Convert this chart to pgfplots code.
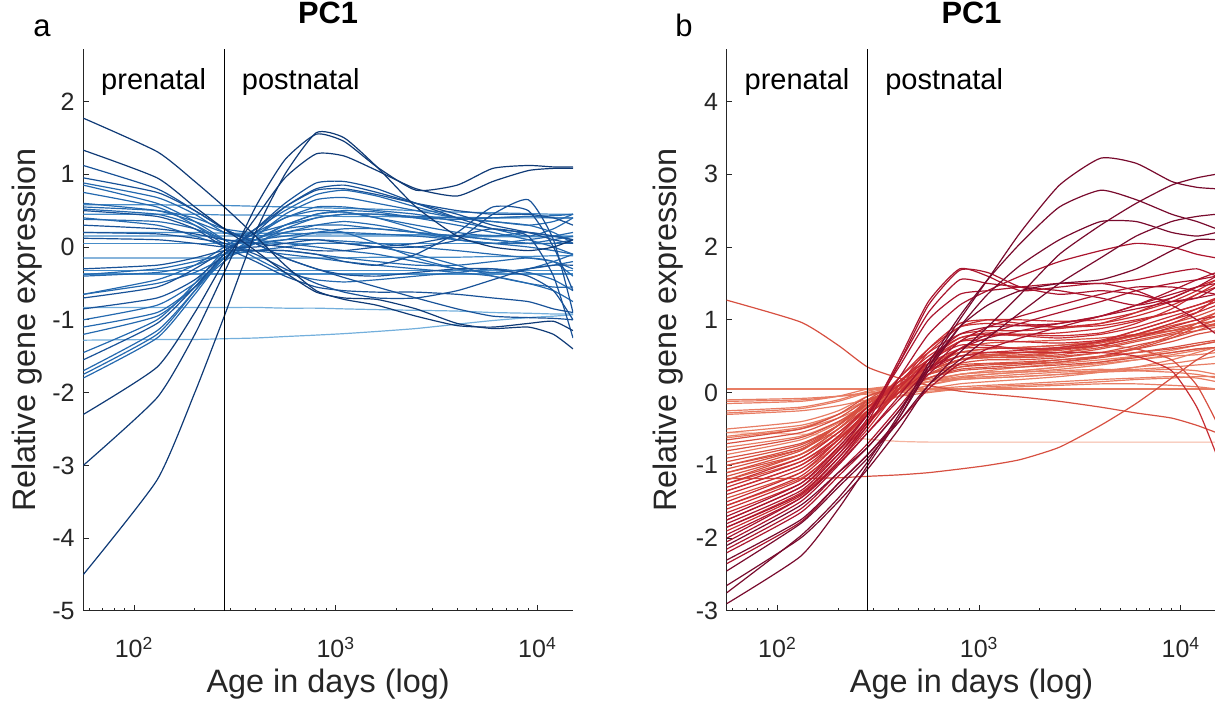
\documentclass[border=0pt]{standalone}
\usepackage{pgfplots}
\usepackage{pgfplotstable}
\pgfplotsset{compat=1.18}
\usepackage{fontspec}
\setmainfont{Liberation Sans}

\definecolor{axgray}{RGB}{38,38,38}
\definecolor{ba1}{RGB}{15,58,118}
\definecolor{ba2}{RGB}{24,82,152}
\definecolor{ba3}{RGB}{36,105,175}
\definecolor{ba4}{RGB}{70,140,200}
\definecolor{ba5}{RGB}{115,175,220}
\definecolor{rb1}{RGB}{120,10,45}
\definecolor{rb2}{RGB}{170,20,45}
\definecolor{rb3}{RGB}{200,45,50}
\definecolor{rb4}{RGB}{215,80,65}
\definecolor{rb5}{RGB}{232,125,100}
\definecolor{rb6}{RGB}{245,180,160}

\pgfplotstableread{
name 56 130 200 280 400 560 800 1100 1600 2500 4000 6000 9000 12000 15000
a1 1.77 1.31 0.90 0.55 0.15 -0.25 -0.60 -0.72 -0.80 -0.95 -1.08 -1.10 -1.05 -1.02 -1.15
a2 1.33 0.95 0.55 0.25 -0.05 -0.35 -0.62 -0.70 -0.72 -0.85 -1.05 -1.12 -1.10 -1.20 -1.40
a3 1.12 0.80 0.50 0.25 0.05 -0.15 -0.30 -0.42 -0.55 -0.70 -0.85 -0.95 -0.97 -0.98 -1.00
a4 0.88 0.68 0.45 0.20 0.10 0.05 0.00 -0.05 -0.10 -0.20 -0.30 -0.35 -0.30 -0.25 -0.20
a5 0.85 0.60 0.35 0.10 -0.15 -0.35 -0.45 -0.48 -0.45 -0.40 -0.35 -0.30 -0.35 -0.45 -0.60
a6 0.75 0.55 0.30 0.05 0.10 0.30 0.45 0.48 0.40 0.25 0.10 0.05 0.10 0.15 0.20
a7 0.52 0.45 0.30 0.10 0.10 0.15 0.20 0.20 0.18 0.15 0.10 0.05 0.00 -0.05 -0.10
a8 0.50 0.42 0.25 0.00 -0.20 -0.40 -0.55 -0.60 -0.62 -0.62 -0.65 -0.70 -0.75 -0.85 -0.90
a9 0.40 0.30 0.15 0.02 -0.05 -0.10 -0.15 -0.20 -0.25 -0.30 -0.35 -0.40 -0.50 -0.60 -0.75
a10 0.38 0.35 0.25 0.10 0.05 0.10 0.20 0.25 0.25 0.20 0.15 0.10 0.05 0.05 0.10
f1 0.58 0.58 0.57 0.57 0.56 0.55 0.54 0.53 0.52 0.50 0.48 0.47 0.46 0.45 0.45
f2 0.45 0.45 0.45 0.44 0.44 0.43 0.43 0.42 0.42 0.41 0.41 0.40 0.40 0.40 0.40
f3 0.15 0.15 0.15 0.15 0.15 0.15 0.15 0.15 0.15 0.15 0.15 0.14 0.14 0.14 0.14
f4 0.05 0.05 0.05 0.05 0.05 0.05 0.05 0.05 0.05 0.05 0.05 0.05 0.05 0.05 0.05
f5 -0.15 -0.15 -0.15 -0.15 -0.15 -0.15 -0.15 -0.15 -0.14 -0.14 -0.14 -0.13 -0.13 -0.12 -0.12
f6 -0.32 -0.32 -0.32 -0.32 -0.32 -0.32 -0.32 -0.32 -0.32 -0.32 -0.32 -0.32 -0.32 -0.32 -0.32
f7 -0.37 -0.37 -0.37 -0.37 -0.37 -0.37 -0.37 -0.37 -0.37 -0.37 -0.37 -0.37 -0.37 -0.37 -0.37
f8 -0.83 -0.83 -0.83 -0.83 -0.83 -0.84 -0.84 -0.85 -0.86 -0.87 -0.88 -0.90 -0.91 -0.92 -0.92
f9 -1.28 -1.27 -1.27 -1.26 -1.25 -1.23 -1.21 -1.19 -1.16 -1.12 -1.06 -1.01 -0.97 -0.95 -0.93
f10 0.20 0.20 0.20 0.19 0.19 0.19 0.18 0.18 0.17 0.17 0.16 0.16 0.15 0.15 0.15
r1 -0.65 -0.45 -0.25 0.00 0.25 0.50 0.72 0.78 0.70 0.55 0.40 0.35 0.30 0.35 0.45
r2 -0.70 -0.55 -0.30 -0.05 0.20 0.55 0.80 0.85 0.75 0.60 0.45 0.30 0.20 0.10 0.05
r3 -0.85 -0.70 -0.45 -0.10 0.25 0.60 0.88 0.90 0.80 0.60 0.40 0.25 0.20 0.15 0.10
r4 -1.00 -0.80 -0.50 -0.15 0.15 0.45 0.65 0.68 0.60 0.50 0.40 0.35 0.30 0.20 0.05
r5 -1.10 -0.90 -0.55 -0.20 0.10 0.30 0.45 0.50 0.48 0.40 0.30 0.20 0.10 0.00 -0.10
r6 -1.20 -0.95 -0.55 -0.15 0.15 0.40 0.50 0.48 0.40 0.30 0.20 0.15 0.20 0.15 0.10
r7 -1.55 -1.05 -0.55 -0.10 0.25 0.55 0.78 0.80 0.72 0.60 0.50 0.45 0.45 0.40 0.30
r8 -1.70 -1.15 -0.60 -0.15 0.10 0.25 0.30 0.30 0.25 0.20 0.15 0.10 0.05 0.05 0.05
r9 -1.75 -1.20 -0.60 -0.10 0.05 0.10 0.10 0.08 0.05 0.00 -0.05 -0.10 -0.15 -0.20 -0.30
r10 -1.80 -1.25 -0.65 -0.15 -0.05 -0.05 -0.10 -0.15 -0.20 -0.25 -0.25 -0.20 -0.15 -0.20 -0.40
r11 -2.30 -1.65 -0.90 -0.20 0.40 0.95 1.28 1.25 1.05 0.80 0.70 0.90 1.05 1.08 1.08
r12 -3.00 -2.07 -1.20 -0.35 0.55 1.20 1.55 1.45 1.10 0.78 0.85 1.08 1.12 1.10 1.10
r13 -4.50 -3.20 -2.00 -0.95 0.20 1.00 1.57 1.50 1.10 0.55 0.15 0.00 -0.05 0.00 0.10
m1 0.20 0.18 0.12 0.05 -0.10 -0.30 -0.50 -0.62 -0.70 -0.70 -0.60 -0.45 -0.30 -0.25 -0.25
m2 -0.38 -0.30 -0.20 -0.10 0.05 0.25 0.40 0.45 0.45 0.42 0.40 0.40 0.42 0.43 0.45
m3 0.12 0.10 0.05 0.00 0.00 0.05 0.10 0.05 0.00 0.00 0.10 0.45 0.65 0.10 -0.90
m4 -0.30 -0.25 -0.15 -0.05 -0.05 -0.05 -0.10 -0.20 -0.25 -0.10 0.20 0.55 0.50 0.00 -0.60
m5 0.55 0.50 0.40 0.25 0.20 0.30 0.40 0.45 0.45 0.40 0.38 0.40 0.42 0.40 0.40
m6 -0.65 -0.50 -0.35 -0.15 0.05 0.20 0.25 0.20 0.05 -0.15 -0.30 -0.35 -0.30 -0.20 -0.10
m7 0.60 0.50 0.35 0.20 0.15 0.20 0.30 0.35 0.30 0.20 0.10 0.05 0.05 0.10 0.15
m8 -0.40 -0.35 -0.25 -0.10 -0.05 0.00 0.05 0.05 0.00 -0.10 -0.25 -0.40 -0.50 -0.55 -0.55
m9 0.95 0.75 0.50 0.25 0.05 -0.15 -0.30 -0.38 -0.40 -0.35 -0.30 -0.30 -0.40 -0.60 -1.00
m10 -1.45 -1.00 -0.50 -0.05 0.20 0.40 0.55 0.55 0.50 0.45 0.35 0.25 0.15 0.25 0.40
m11 0.30 0.25 0.18 0.10 0.05 0.00 -0.05 -0.05 0.00 0.05 0.15 0.25 0.15 -0.40 -1.25
}\rawA
\pgfplotstabletranspose[colnames from=name,input colnames to=x]{\tabA}{\rawA}

\pgfplotstableread{
name 56 130 200 280 400 560 800 1100 1600 2500 4000 6000 9000 12000 15000
b1 -2.90 -2.25 -1.60 -1.00 -0.35 0.35 1.00 1.55 2.20 2.85 3.22 3.15 2.90 2.82 2.80
b2 -2.75 -1.97 -1.45 -0.95 -0.30 0.40 1.05 1.55 2.05 2.55 2.78 2.65 2.45 2.35 2.25
b3 -2.65 -2.00 -1.50 -1.05 -0.50 0.10 0.55 0.90 1.35 1.90 2.30 2.60 2.85 2.95 3.00
b4 -2.45 -1.80 -1.30 -0.90 -0.40 0.10 0.45 0.75 1.10 1.50 1.85 2.15 2.35 2.42 2.45
b5 -2.30 -1.75 -1.25 -0.85 -0.35 0.30 0.90 1.35 1.75 2.10 2.35 2.35 2.20 2.15 2.20
b6 -2.10 -1.55 -1.10 -0.75 -0.25 0.35 0.90 1.20 1.40 1.50 1.55 1.70 1.95 2.10 2.10
b7 -1.85 -1.40 -0.90 -0.40 0.40 1.20 1.68 1.65 1.45 1.35 1.40 1.35 1.25 1.30 1.45
b8 -1.80 -1.35 -0.85 -0.35 0.45 1.25 1.70 1.60 1.40 1.45 1.50 1.40 1.20 1.00 0.80
b9 -1.75 -1.30 -0.80 -0.30 0.40 1.10 1.55 1.50 1.45 1.40 1.30 1.20 1.30 1.45 1.60
b10 -1.70 -1.25 -0.75 -0.30 0.35 1.00 1.35 1.40 1.45 1.50 1.50 1.55 1.65 1.70 1.60
b11 -2.00 -1.45 -0.95 -0.45 0.20 0.80 1.20 1.40 1.60 1.80 1.95 2.05 2.00 1.90 1.85
b12 -1.60 -1.20 -0.75 -0.30 0.20 0.60 0.90 0.95 0.92 0.90 0.95 1.05 1.20 1.35 1.50
b13 -1.55 -1.15 -0.70 -0.25 0.20 0.55 0.80 0.85 0.85 0.88 0.95 1.10 1.30 1.45 1.55
b14 -1.50 -1.10 -0.65 -0.25 0.15 0.50 0.75 0.80 0.78 0.75 0.80 0.90 1.05 1.15 1.25
b15 -1.40 -1.05 -0.65 -0.25 0.15 0.45 0.70 0.72 0.70 0.68 0.72 0.85 1.00 1.10 1.20
b16 -1.30 -0.95 -0.60 -0.20 0.15 0.45 0.65 0.65 0.60 0.60 0.65 0.75 0.90 1.00 1.05
b17 -1.25 -0.90 -0.55 -0.20 0.10 0.40 0.60 0.62 0.60 0.62 0.70 0.80 0.95 1.10 1.30
b18 -1.20 -0.85 -0.50 -0.15 0.15 0.40 0.55 0.55 0.55 0.58 0.65 0.75 0.85 0.95 1.05
b19 -1.15 -0.85 -0.50 -0.15 0.10 0.35 0.50 0.52 0.50 0.52 0.60 0.70 0.80 0.85 0.90
b20 -1.10 -0.80 -0.45 -0.10 0.15 0.40 0.55 0.60 0.62 0.65 0.70 0.78 0.85 0.90 0.92
b21 -1.05 -0.78 -0.45 -0.12 0.10 0.30 0.45 0.48 0.48 0.50 0.55 0.65 0.75 0.85 0.95
b22 -1.00 -0.75 -0.45 -0.15 0.05 0.25 0.40 0.45 0.45 0.48 0.55 0.60 0.70 0.80 0.85
b23 -0.90 -0.70 -0.45 -0.15 0.10 0.30 0.45 0.50 0.52 0.55 0.62 0.72 0.82 0.90 1.00
b24 -0.80 -0.62 -0.40 -0.15 0.05 0.20 0.35 0.40 0.42 0.45 0.50 0.55 0.60 0.65 0.70
b25 -0.70 -0.55 -0.35 -0.10 0.05 0.20 0.30 0.33 0.35 0.38 0.42 0.48 0.55 0.60 0.62
b26 -0.65 -0.50 -0.30 -0.05 0.10 0.25 0.35 0.38 0.40 0.45 0.50 0.60 0.75 0.90 1.00
b27 -0.60 -0.48 -0.30 -0.10 0.00 0.10 0.18 0.20 0.22 0.25 0.30 0.35 0.40 0.45 0.50
b28 -0.55 -0.45 -0.30 -0.10 0.05 0.15 0.25 0.28 0.30 0.35 0.40 0.45 0.50 0.52 0.55
b29 -0.50 -0.40 -0.25 -0.05 0.05 0.15 0.22 0.25 0.28 0.30 0.32 0.30 0.28 0.25 0.20
b30 -0.28 -0.22 -0.12 0.00 0.08 0.15 0.20 0.22 0.25 0.28 0.30 0.32 0.35 0.38 0.40
b31 -0.25 -0.20 -0.10 0.02 0.10 0.18 0.25 0.30 0.35 0.40 0.45 0.50 0.55 0.60 0.62
b32 -0.15 -0.12 -0.05 0.05 0.10 0.15 0.18 0.20 0.22 0.25 0.28 0.30 0.32 0.30 0.25
b33 -0.12 -0.10 -0.05 0.00 0.02 0.05 0.08 0.10 0.12 0.15 0.18 0.20 0.22 0.20 0.15
b34 -0.10 -0.08 -0.05 -0.02 0.00 0.02 0.04 0.06 0.08 0.10 0.12 0.12 0.10 0.08 0.05
b35 0.05 0.05 0.05 0.05 0.05 0.05 0.05 0.05 0.05 0.05 0.05 0.05 0.05 0.05 0.05
b36 -0.55 -0.57 -0.60 -0.64 -0.67 -0.68 -0.68 -0.68 -0.68 -0.68 -0.68 -0.68 -0.68 -0.68 -0.68
b37 -1.18 -1.18 -1.17 -1.15 -1.13 -1.10 -1.05 -1.00 -0.92 -0.75 -0.45 -0.15 0.20 0.45 0.60
b38 1.27 0.97 0.65 0.35 0.20 0.10 0.02 -0.02 -0.06 -0.12 -0.20 -0.28 -0.35 -0.45 -0.55
b39 -1.35 -1.00 -0.60 -0.20 0.10 0.35 0.50 0.55 0.55 0.55 0.55 0.50 0.30 -0.20 -0.85
b40 -0.95 -0.72 -0.45 -0.15 0.10 0.30 0.45 0.50 0.55 0.60 0.65 0.60 0.45 0.10 -0.40
b41 -1.90 -1.42 -0.95 -0.50 0.05 0.55 0.90 1.00 1.00 0.98 1.00 1.10 1.25 1.40 1.55
b42 -1.85 -1.38 -0.90 -0.45 0.10 0.60 0.95 1.00 0.95 0.90 0.92 1.00 1.10 1.20 1.30
b43 -2.05 -1.50 -1.00 -0.55 -0.05 0.45 0.80 0.90 0.92 0.95 1.05 1.20 1.40 1.55 1.65
b44 -2.20 -1.65 -1.15 -0.75 -0.25 0.25 0.60 0.80 0.95 1.10 1.25 1.40 1.50 1.55 1.60
b45 -1.65 -1.25 -0.80 -0.40 0.05 0.45 0.75 0.82 0.80 0.78 0.82 0.95 1.15 1.35 1.45
b46 -1.45 -1.10 -0.70 -0.30 0.05 0.35 0.55 0.60 0.62 0.65 0.70 0.80 0.92 1.00 1.10
b47 -1.35 -1.00 -0.65 -0.30 0.00 0.30 0.50 0.55 0.58 0.62 0.70 0.85 1.00 1.15 1.25
b48 -1.20 -0.90 -0.55 -0.25 0.05 0.30 0.45 0.48 0.50 0.55 0.65 0.80 0.95 1.05 1.15
b49 -1.00 -0.78 -0.50 -0.20 0.05 0.25 0.38 0.40 0.40 0.42 0.48 0.55 0.62 0.68 0.72
b50 -0.85 -0.65 -0.42 -0.18 0.00 0.15 0.25 0.28 0.30 0.35 0.42 0.50 0.58 0.65 0.70
b51 -0.75 -0.60 -0.40 -0.20 -0.05 0.10 0.20 0.25 0.28 0.32 0.38 0.45 0.52 0.58 0.62
b52 -1.55 -1.18 -0.78 -0.38 0.00 0.35 0.60 0.68 0.70 0.72 0.75 0.80 0.85 0.90 0.95
b53 -1.95 -1.45 -0.98 -0.55 -0.10 0.30 0.60 0.75 0.85 0.95 1.05 1.15 1.25 1.30 1.35
b54 -2.35 -1.78 -1.25 -0.85 -0.40 0.05 0.40 0.60 0.75 0.90 1.05 1.20 1.35 1.45 1.50
b55 -1.10 -0.85 -0.55 -0.25 0.00 0.20 0.32 0.35 0.38 0.42 0.50 0.62 0.78 0.95 1.10
b56 -0.62 -0.50 -0.35 -0.18 -0.05 0.05 0.12 0.15 0.18 0.22 0.28 0.35 0.45 0.55 0.62
b57 -0.30 -0.25 -0.18 -0.10 -0.05 0.00 0.05 0.08 0.10 0.12 0.15 0.18 0.20 0.22 0.22
b58 -1.25 -0.95 -0.62 -0.28 0.00 0.25 0.45 0.52 0.55 0.60 0.68 0.78 0.88 0.95 0.98
b59 -2.15 -1.60 -1.10 -0.70 -0.20 0.30 0.70 0.90 1.05 1.20 1.35 1.45 1.45 1.40 1.35
b60 -1.75 -1.30 -0.85 -0.42 0.00 0.40 0.70 0.78 0.80 0.82 0.88 0.98 1.10 1.20 1.28
}\rawB
\pgfplotstabletranspose[colnames from=name,input colnames to=x]{\tabB}{\rawB}

\pgfplotsset{ln/.style={smooth, tension=0.35, line width=0.6pt, color=#1}}
\newcommand{\tkl}[1]{\mbox{\fontsize{12.5}{14}\selectfont #1}}
\newcommand{\labfont}{\fontsize{16.2}{18}\selectfont}

\begin{document}
\begin{tikzpicture}
\useasboundingbox (0,0) rectangle (607.5pt,355.5pt);

\begin{axis}[
    at={(41.65pt,50pt)}, anchor=south west,
    scale only axis, width=244.85pt, height=281pt,
    xmode=log, xmin=56, xmax=15000,
    ymin=-5, ymax=2.72,
    axis x line*=bottom, axis y line*=left,
    tick align=inside,
    major tick length=2.8pt, minor tick length=1.7pt,
    xtick={100,1000,10000},
    xticklabels={\tkl{10\textsuperscript{2}},\tkl{10\textsuperscript{3}},\tkl{10\textsuperscript{4}}},
    minor xtick={60,70,80,90,200,300,400,500,600,700,800,900,2000,3000,4000,5000,6000,7000,8000,9000},
    ytick={-5,-4,-3,-2,-1,0,1,2},
    yticklabels={\tkl{-5},\tkl{-4},\tkl{-3},\tkl{-2},\tkl{-1},\tkl{0},\tkl{1},\tkl{2}},
    axis line style={line width=0.5pt, color=axgray},
    tick style={line width=0.5pt, color=axgray},
    xticklabel style={text=axgray, anchor=base, yshift=-23.5pt},
    yticklabel style={text=axgray, xshift=-0.8pt},
    xlabel={Age in days (log)},
    ylabel={Relative gene expression},
    xlabel style={at={(axis description cs:0.5,0)}, anchor=base, yshift=-41pt,
      font=\labfont, text=axgray},
    ylabel style={at={(axis description cs:-0.115,0.5)}, anchor=center,
      font=\labfont, text=axgray},
    title={PC1},
    title style={at={(axis description cs:0.5,1)}, anchor=base, yshift=6.5pt,
      font=\fontsize{15.4}{17}\selectfont\bfseries},
  ]
\addplot[ln=ba5] table[x=x,y=f9]{\tabA};
\addplot[ln=ba5] table[x=x,y=f8]{\tabA};
\addplot[ln=ba4] table[x=x,y=f1]{\tabA};
\addplot[ln=ba4] table[x=x,y=f2]{\tabA};
\addplot[ln=ba4] table[x=x,y=f3]{\tabA};
\addplot[ln=ba4] table[x=x,y=f4]{\tabA};
\addplot[ln=ba4] table[x=x,y=f5]{\tabA};
\addplot[ln=ba4] table[x=x,y=f6]{\tabA};
\addplot[ln=ba4] table[x=x,y=f7]{\tabA};
\addplot[ln=ba4] table[x=x,y=f10]{\tabA};
\addplot[ln=ba3] table[x=x,y=a4]{\tabA};
\addplot[ln=ba3] table[x=x,y=a5]{\tabA};
\addplot[ln=ba3] table[x=x,y=a6]{\tabA};
\addplot[ln=ba3] table[x=x,y=a7]{\tabA};
\addplot[ln=ba3] table[x=x,y=a9]{\tabA};
\addplot[ln=ba3] table[x=x,y=a10]{\tabA};
\addplot[ln=ba3] table[x=x,y=r1]{\tabA};
\addplot[ln=ba3] table[x=x,y=r4]{\tabA};
\addplot[ln=ba3] table[x=x,y=r5]{\tabA};
\addplot[ln=ba3] table[x=x,y=r6]{\tabA};
\addplot[ln=ba3] table[x=x,y=r8]{\tabA};
\addplot[ln=ba3] table[x=x,y=r9]{\tabA};
\addplot[ln=ba3] table[x=x,y=r10]{\tabA};
\addplot[ln=ba3] table[x=x,y=m2]{\tabA};
\addplot[ln=ba3] table[x=x,y=m5]{\tabA};
\addplot[ln=ba3] table[x=x,y=m6]{\tabA};
\addplot[ln=ba3] table[x=x,y=m7]{\tabA};
\addplot[ln=ba3] table[x=x,y=m8]{\tabA};
\addplot[ln=ba3] table[x=x,y=m10]{\tabA};
\addplot[ln=ba2] table[x=x,y=a3]{\tabA};
\addplot[ln=ba2] table[x=x,y=a8]{\tabA};
\addplot[ln=ba2] table[x=x,y=r7]{\tabA};
\addplot[ln=ba2] table[x=x,y=r3]{\tabA};
\addplot[ln=ba2] table[x=x,y=r2]{\tabA};
\addplot[ln=ba2] table[x=x,y=m9]{\tabA};
\addplot[ln=ba2] table[x=x,y=m1]{\tabA};
\addplot[ln=ba2] table[x=x,y=m3]{\tabA};
\addplot[ln=ba2] table[x=x,y=m4]{\tabA};
\addplot[ln=ba2] table[x=x,y=m11]{\tabA};
\addplot[ln=ba1] table[x=x,y=a1]{\tabA};
\addplot[ln=ba1] table[x=x,y=a2]{\tabA};
\addplot[ln=ba1] table[x=x,y=r11]{\tabA};
\addplot[ln=ba1] table[x=x,y=r12]{\tabA};
\addplot[ln=ba1] table[x=x,y=r13]{\tabA};
\addplot[black, line width=0.5pt] coordinates {(280,-5) (280,2.72)};
\node[anchor=base, inner sep=0pt, font=\fontsize{14.5}{16}\selectfont] at (axis cs:125,2.16) {prenatal};
\node[anchor=base west, inner sep=0pt, font=\fontsize{14.5}{16}\selectfont] at (axis cs:341,2.16) {postnatal};
\end{axis}

\begin{axis}[
    at={(363.35pt,50pt)}, anchor=south west,
    scale only axis, width=244.85pt, height=281pt,
    xmode=log, xmin=56, xmax=15000,
    ymin=-3, ymax=4.72,
    axis x line*=bottom, axis y line*=left,
    tick align=inside,
    major tick length=2.8pt, minor tick length=1.7pt,
    xtick={100,1000,10000},
    xticklabels={\tkl{10\textsuperscript{2}},\tkl{10\textsuperscript{3}},\tkl{10\textsuperscript{4}}},
    minor xtick={60,70,80,90,200,300,400,500,600,700,800,900,2000,3000,4000,5000,6000,7000,8000,9000},
    ytick={-3,-2,-1,0,1,2,3,4},
    yticklabels={\tkl{-3},\tkl{-2},\tkl{-1},\tkl{0},\tkl{1},\tkl{2},\tkl{3},\tkl{4}},
    axis line style={line width=0.5pt, color=axgray},
    tick style={line width=0.5pt, color=axgray},
    xticklabel style={text=axgray, anchor=base, yshift=-23.5pt},
    yticklabel style={text=axgray, xshift=-0.8pt},
    xlabel={Age in days (log)},
    ylabel={Relative gene expression},
    xlabel style={at={(axis description cs:0.5,0)}, anchor=base, yshift=-41pt,
      font=\labfont, text=axgray},
    ylabel style={at={(axis description cs:-0.12,0.5)}, anchor=center,
      font=\labfont, text=axgray},
    title={PC1},
    title style={at={(axis description cs:0.5,1)}, anchor=base, yshift=6.5pt,
      font=\fontsize{15.4}{17}\selectfont\bfseries},
  ]
\addplot[ln=rb6] table[x=x,y=b36]{\tabB};
\addplot[ln=rb5] table[x=x,y=b35]{\tabB};
\addplot[ln=rb5] table[x=x,y=b27]{\tabB};
\addplot[ln=rb5] table[x=x,y=b28]{\tabB};
\addplot[ln=rb5] table[x=x,y=b29]{\tabB};
\addplot[ln=rb5] table[x=x,y=b30]{\tabB};
\addplot[ln=rb5] table[x=x,y=b31]{\tabB};
\addplot[ln=rb5] table[x=x,y=b32]{\tabB};
\addplot[ln=rb5] table[x=x,y=b33]{\tabB};
\addplot[ln=rb5] table[x=x,y=b34]{\tabB};
\addplot[ln=rb5] table[x=x,y=b50]{\tabB};
\addplot[ln=rb5] table[x=x,y=b51]{\tabB};
\addplot[ln=rb5] table[x=x,y=b56]{\tabB};
\addplot[ln=rb5] table[x=x,y=b57]{\tabB};
\addplot[ln=rb4] table[x=x,y=b18]{\tabB};
\addplot[ln=rb4] table[x=x,y=b19]{\tabB};
\addplot[ln=rb4] table[x=x,y=b20]{\tabB};
\addplot[ln=rb4] table[x=x,y=b21]{\tabB};
\addplot[ln=rb4] table[x=x,y=b22]{\tabB};
\addplot[ln=rb4] table[x=x,y=b23]{\tabB};
\addplot[ln=rb4] table[x=x,y=b24]{\tabB};
\addplot[ln=rb4] table[x=x,y=b25]{\tabB};
\addplot[ln=rb4] table[x=x,y=b26]{\tabB};
\addplot[ln=rb4] table[x=x,y=b46]{\tabB};
\addplot[ln=rb4] table[x=x,y=b48]{\tabB};
\addplot[ln=rb4] table[x=x,y=b49]{\tabB};
\addplot[ln=rb4] table[x=x,y=b52]{\tabB};
\addplot[ln=rb4] table[x=x,y=b55]{\tabB};
\addplot[ln=rb4] table[x=x,y=b58]{\tabB};
\addplot[ln=rb4] table[x=x,y=b40]{\tabB};
\addplot[ln=rb4] table[x=x,y=b37]{\tabB};
\addplot[ln=rb4] table[x=x,y=b38]{\tabB};
\addplot[ln=rb3] table[x=x,y=b12]{\tabB};
\addplot[ln=rb3] table[x=x,y=b13]{\tabB};
\addplot[ln=rb3] table[x=x,y=b14]{\tabB};
\addplot[ln=rb3] table[x=x,y=b15]{\tabB};
\addplot[ln=rb3] table[x=x,y=b16]{\tabB};
\addplot[ln=rb3] table[x=x,y=b17]{\tabB};
\addplot[ln=rb3] table[x=x,y=b41]{\tabB};
\addplot[ln=rb3] table[x=x,y=b42]{\tabB};
\addplot[ln=rb3] table[x=x,y=b45]{\tabB};
\addplot[ln=rb3] table[x=x,y=b47]{\tabB};
\addplot[ln=rb3] table[x=x,y=b60]{\tabB};
\addplot[ln=rb3] table[x=x,y=b39]{\tabB};
\addplot[ln=rb2] table[x=x,y=b7]{\tabB};
\addplot[ln=rb2] table[x=x,y=b8]{\tabB};
\addplot[ln=rb2] table[x=x,y=b9]{\tabB};
\addplot[ln=rb2] table[x=x,y=b10]{\tabB};
\addplot[ln=rb2] table[x=x,y=b11]{\tabB};
\addplot[ln=rb2] table[x=x,y=b43]{\tabB};
\addplot[ln=rb2] table[x=x,y=b44]{\tabB};
\addplot[ln=rb2] table[x=x,y=b53]{\tabB};
\addplot[ln=rb2] table[x=x,y=b54]{\tabB};
\addplot[ln=rb2] table[x=x,y=b59]{\tabB};
\addplot[ln=rb1] table[x=x,y=b1]{\tabB};
\addplot[ln=rb1] table[x=x,y=b2]{\tabB};
\addplot[ln=rb1] table[x=x,y=b3]{\tabB};
\addplot[ln=rb1] table[x=x,y=b4]{\tabB};
\addplot[ln=rb1] table[x=x,y=b5]{\tabB};
\addplot[ln=rb1] table[x=x,y=b6]{\tabB};
\addplot[black, line width=0.5pt] coordinates {(280,-3) (280,4.72)};
\node[anchor=base, inner sep=0pt, font=\fontsize{14.5}{16}\selectfont] at (axis cs:125,4.16) {prenatal};
\node[anchor=base west, inner sep=0pt, font=\fontsize{14.5}{16}\selectfont] at (axis cs:341,4.16) {postnatal};
\end{axis}

\node[anchor=base, inner sep=0pt, font=\fontsize{15.5}{18}\selectfont] at (21pt,337pt) {a};
\node[anchor=base, inner sep=0pt, font=\fontsize{15.5}{18}\selectfont] at (342pt,337pt) {b};
\end{tikzpicture}
\end{document}
